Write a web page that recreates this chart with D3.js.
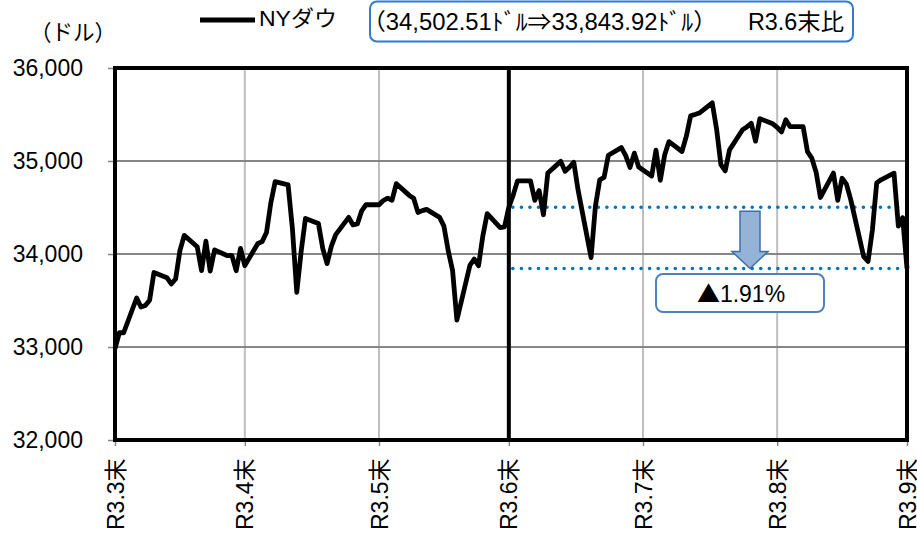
<!DOCTYPE html>
<html><head><meta charset="utf-8">
<script src="https://cdn.jsdelivr.net/npm/d3@7/dist/d3.min.js"></script>
<style>body{margin:0;background:#fff}svg{display:block}text{font-family:"Liberation Sans","Noto Sans CJK JP",sans-serif}</style>
</head><body><svg id="c" width="917" height="533"></svg>
<script>
// ---- data ----
const dates = [
"2021-03-31","2021-04-01","2021-04-02","2021-04-05","2021-04-06","2021-04-07","2021-04-08","2021-04-09",
"2021-04-12","2021-04-13","2021-04-14","2021-04-15","2021-04-16","2021-04-19","2021-04-20","2021-04-21",
"2021-04-22","2021-04-23","2021-04-26","2021-04-27","2021-04-28","2021-04-29","2021-04-30",
"2021-05-03","2021-05-04","2021-05-05","2021-05-06","2021-05-07","2021-05-10","2021-05-11","2021-05-12",
"2021-05-13","2021-05-14","2021-05-17","2021-05-18","2021-05-19","2021-05-20","2021-05-21","2021-05-24",
"2021-05-25","2021-05-26","2021-05-27","2021-05-28","2021-05-31",
"2021-06-01","2021-06-02","2021-06-03","2021-06-04","2021-06-07","2021-06-08","2021-06-09","2021-06-10",
"2021-06-11","2021-06-14","2021-06-15","2021-06-16","2021-06-17","2021-06-18","2021-06-21","2021-06-22",
"2021-06-23","2021-06-24","2021-06-25","2021-06-28","2021-06-29","2021-06-30",
"2021-07-01","2021-07-02","2021-07-05","2021-07-06","2021-07-07","2021-07-08","2021-07-09","2021-07-12",
"2021-07-13","2021-07-14","2021-07-15","2021-07-16","2021-07-19","2021-07-20","2021-07-21","2021-07-22",
"2021-07-23","2021-07-26","2021-07-27","2021-07-28","2021-07-29","2021-07-30",
"2021-08-02","2021-08-03","2021-08-04","2021-08-05","2021-08-06","2021-08-09","2021-08-10","2021-08-11",
"2021-08-12","2021-08-13","2021-08-16","2021-08-17","2021-08-18","2021-08-19","2021-08-20","2021-08-23",
"2021-08-24","2021-08-25","2021-08-26","2021-08-27","2021-08-30","2021-08-31",
"2021-09-01","2021-09-02","2021-09-03","2021-09-06","2021-09-07","2021-09-08","2021-09-09","2021-09-10",
"2021-09-13","2021-09-14","2021-09-15","2021-09-16","2021-09-17","2021-09-20","2021-09-21","2021-09-22",
"2021-09-23","2021-09-24","2021-09-27","2021-09-28","2021-09-29","2021-09-30"];
const dow = [
32981.55,33153.21,33153.21,33527.19,33430.24,33446.26,33503.57,33800.60,
33745.40,33677.27,33730.89,34035.99,34200.67,34077.63,33821.30,34137.31,
33815.90,34043.49,33981.57,33984.93,33820.38,34060.36,33874.85,
34113.23,34133.03,34230.34,34548.53,34777.76,34742.82,34269.16,33587.66,
34021.45,34382.13,34327.79,34060.66,33896.04,34084.15,34207.84,34393.98,
34312.46,34323.05,34464.64,34529.45,34529.45,
34575.31,34600.38,34577.37,34756.39,34630.24,34599.82,34447.14,34466.24,
34479.60,34393.75,34299.33,34033.67,33823.45,33290.08,33876.97,33945.58,
33874.24,34196.82,34433.84,34283.27,34292.29,34502.51,
34633.53,34786.35,34786.35,34577.37,34681.79,34421.93,34870.16,34996.18,
34888.79,34933.23,34987.02,34687.85,33962.04,34511.99,34798.00,34823.35,
35061.55,35144.31,35058.52,34930.93,35084.53,34935.47,
34838.16,35116.40,34792.67,35064.25,35208.51,35101.85,35264.67,35484.97,
35499.85,35515.38,35625.40,35343.28,34960.69,34894.12,35120.08,35335.71,
35366.26,35405.50,35213.12,35455.80,35399.84,35360.73,
35312.53,35443.82,35369.09,35369.09,35100.00,35031.07,34879.38,34607.72,
34869.63,34577.57,34814.39,34751.32,34584.88,33970.47,33919.84,34258.32,
34764.82,34798.00,34869.37,34299.99,34390.72,33843.92];
const tickDates = ["2021-03-31","2021-04-30","2021-05-31","2021-06-30","2021-07-31","2021-08-31","2021-09-30"];
const tickLabels = ["R3.3末","R3.4末","R3.5末","R3.6末","R3.7末","R3.8末","R3.9末"];
const yTicks = [32000,33000,34000,35000,36000];
const baseDate = "2021-06-30";
const baseValue = 34502.51;
const lastValue = 33843.92;
const seriesName = "NYダウ";
const unitLabel = "（ドル）";
const noteText = "（34,502.51ﾄﾞﾙ⇒33,843.92ﾄﾞﾙ）";
const noteText2 = "R3.6末比";
const changeMark = "▲";
const changeText = "1.91%";

// ---- chart ----
const parse = d3.timeParse("%Y-%m-%d");
const svg = d3.select("#c");
const L = 115, R = 907, T = 68, B = 440;
const x = d3.scaleTime().domain([parse(tickDates[0]), parse(tickDates[tickDates.length-1])]).range([L, R]);
const y = d3.scaleLinear().domain([32000, 36000]).range([B, T]);

// vertical gridlines
svg.append("g").selectAll("line").data(tickDates.slice(1,-1)).join("line")
  .attr("x1", d => x(parse(d))).attr("x2", d => x(parse(d)))
  .attr("y1", T).attr("y2", B).attr("stroke", "#bfbfbf").attr("stroke-width", 2);
// horizontal gridlines
svg.append("g").selectAll("line").data(yTicks.slice(1,-1)).join("line")
  .attr("x1", L).attr("x2", R).attr("y1", d => y(d)).attr("y2", d => y(d))
  .attr("stroke", "#868686").attr("stroke-width", 2);

// y axis
const ya = svg.append("g").attr("transform", `translate(${L},0)`)
  .call(d3.axisLeft(y).tickValues(yTicks).tickFormat(d3.format(",")).tickSize(7).tickPadding(25));
ya.select(".domain").remove();
ya.selectAll("line").attr("stroke", "#868686").attr("stroke-width", 1.5);
ya.selectAll("text").attr("font-size", 23).attr("fill", "#000")
  .style("font-family", '"Liberation Sans",sans-serif');

// x axis
const xa = svg.append("g").attr("transform", `translate(0,${B})`)
  .call(d3.axisBottom(x).tickValues(tickDates.map(parse)).tickFormat((d,i) => tickLabels[i]).tickSize(6));
xa.select(".domain").remove();
xa.selectAll("line").attr("stroke", "#868686").attr("stroke-width", 1.5);
xa.selectAll("text").attr("font-size", 23).attr("fill", "#000")
  .attr("transform", "rotate(-90)").attr("text-anchor", "start")
  .attr("x", -90).attr("y", 0).attr("dy", "0.35em");

// dotted reference lines
[baseValue, lastValue].forEach(v => {
  svg.append("line").attr("x1", x(parse(baseDate)) + 4).attr("x2", R - 6)
    .attr("y1", y(v)).attr("y2", y(v))
    .attr("stroke", "#0070C0").attr("stroke-width", 3.6)
    .attr("stroke-linecap", "round").attr("stroke-dasharray", "0 8.55");
});

// series line
const pts = dates.map((d,i) => [parse(d), dow[i]]);
svg.append("path").datum(pts)
  .attr("d", d3.line().x(d => x(d[0])).y(d => y(d[1])))
  .attr("fill", "none").attr("stroke", "#000").attr("stroke-width", 4.8)
  .attr("stroke-linejoin", "round");

// frame
svg.append("rect").attr("x", L).attr("y", T).attr("width", R - L).attr("height", B - T)
  .attr("fill", "none").attr("stroke", "#000").attr("stroke-width", 4);
svg.append("line").attr("x1", x(parse(baseDate))).attr("x2", x(parse(baseDate)))
  .attr("y1", T).attr("y2", B).attr("stroke", "#000").attr("stroke-width", 4);

// arrow
const ax = 750, yTop = y(baseValue) + 4, yTip = y(lastValue), yHead = yTip - 17;
svg.append("path")
  .attr("d", `M${ax-10},${yTop}H${ax+10}V${yHead}H${ax+18}L${ax},${yTip}L${ax-18},${yHead}H${ax-10}Z`)
  .attr("fill", "#95B3D7").attr("stroke", "#3F6FA8").attr("stroke-width", 1.5);

// change box
svg.append("rect").attr("x", 656).attr("y", 274).attr("width", 168).attr("height", 38).attr("rx", 7)
  .attr("fill", "#fff").attr("stroke", "#4F81BD").attr("stroke-width", 2);
const ct = svg.append("text").attr("x", 741).attr("y", 294).attr("dy", "0.35em").attr("text-anchor", "middle")
  .attr("font-size", 23);
ct.append("tspan").style("font-family", '"Noto Sans CJK JP",sans-serif').text(changeMark);
ct.append("tspan").text(changeText);

// legend
svg.append("line").attr("x1", 200).attr("x2", 255).attr("y1", 20).attr("y2", 20)
  .attr("stroke", "#000").attr("stroke-width", 4.8);
svg.append("text").attr("x", 259).attr("y", 18).attr("dy", "0.35em").attr("font-size", 22)
  .attr("textLength", 78).attr("lengthAdjust", "spacingAndGlyphs").text(seriesName);
svg.append("text").attr("x", 30).attr("y", 32).attr("dy", "0.35em").attr("font-size", 22)
  .attr("textLength", 86).attr("lengthAdjust", "spacingAndGlyphs").text(unitLabel);

// note box
svg.append("rect").attr("x", 370).attr("y", 1.5).attr("width", 483).attr("height", 40).attr("rx", 7)
  .attr("fill", "#fff").attr("stroke", "#2E7BCF").attr("stroke-width", 2);
svg.append("text").attr("x", 362).attr("y", 22).attr("dy", "0.35em").attr("font-size", 23)
  .attr("textLength", 355).attr("lengthAdjust", "spacingAndGlyphs").text(noteText);
svg.append("text").attr("x", 748).attr("y", 22).attr("dy", "0.35em").attr("font-size", 23)
  .attr("textLength", 96).attr("lengthAdjust", "spacingAndGlyphs").text(noteText2);
</script></body></html>
